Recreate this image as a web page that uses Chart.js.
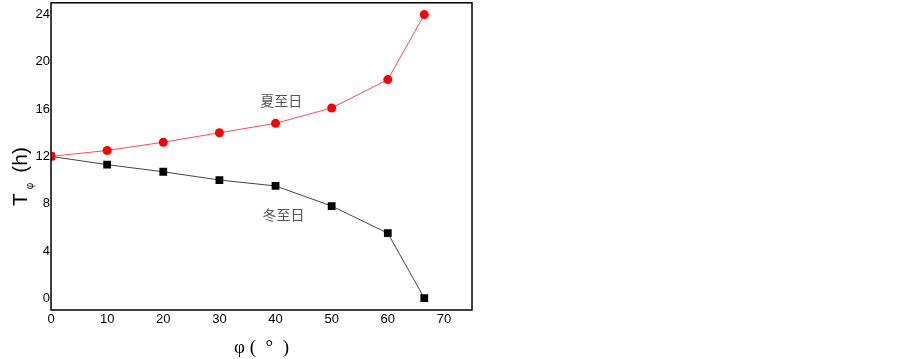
<!DOCTYPE html>
<html>
<head>
<meta charset="utf-8">
<script src="https://cdn.jsdelivr.net/npm/chart.js@4"></script>
<style>
  html, body { margin: 0; padding: 0; background: #fff; overflow: hidden; }
  #chart { display: block; margin-top: -6px; }
</style>
</head>
<body>
<canvas id="chart" width="903" height="365"></canvas>
<script>
// dati
const latitudes = [0, 10, 20, 30, 40, 50, 60, 66.5];
const summerHours = [12, 12.5, 13.2, 14.0, 14.8, 16.1, 18.5, 24];
const winterHours = [12, 11.3, 10.7, 10.0, 9.5, 7.8, 5.5, 0];
const xTicks = [0, 10, 20, 30, 40, 50, 60, 70];
const yTicks = [0, 4, 8, 12, 16, 20, 24];
const curveLabels = ["夏至日", "冬至日"];
const curveLabelPos = [[41.0, 16.7], [41.4, 7.1]];

function toPoints(ys) {
    return latitudes.map((x, i) => ({ x: x, y: ys[i] }));
}

// cornice + etichette + titolo asse y
const extras = {
    id: "extras",
    afterDatasetsDraw(chart) {
        const ctx = chart.ctx;
        const a = chart.chartArea;
        const xs = chart.scales.x, ys = chart.scales.y;
        ctx.save();
        ctx.strokeStyle = "#000";
        ctx.lineWidth = 1.5;
        ctx.strokeRect(a.left, a.top, a.right - a.left, a.bottom - a.top);

        ctx.fillStyle = "#555";
        ctx.font = '14px "Noto Sans CJK SC"';
        ctx.textAlign = "center";
        ctx.textBaseline = "middle";
        curveLabels.forEach((t, i) => {
            ctx.fillText(t, xs.getPixelForValue(curveLabelPos[i][0]), ys.getPixelForValue(curveLabelPos[i][1]));
        });

        // T_φ (h)  (canvas spostato di 6px in alto)
        ctx.translate(21, 212);
        ctx.rotate(-Math.PI / 2);
        ctx.fillStyle = "#000";
        ctx.textAlign = "left";
        ctx.textBaseline = "middle";
        ctx.font = '21px "Liberation Sans"';
        ctx.fillText("T", 0, 0);
        let w = ctx.measureText("T").width;
        ctx.font = '10px "Liberation Sans"';
        ctx.fillText("φ", w + 4, 9);
        w += 4 + ctx.measureText("φ").width + 10;
        ctx.font = '21px "Liberation Sans"';
        ctx.fillText("(h)", w, 0);
        ctx.restore();
    }
};

const ctx = document.getElementById("chart").getContext("2d");

new Chart(ctx, {
    type: "line",
    data: {
        datasets: [{
            label: "夏至日",
            data: toPoints(summerHours),
            borderColor: "#ff4d4d",
            borderWidth: 1,
            pointStyle: "circle",
            pointRadius: 4.5,
            pointBackgroundColor: "#ff0000",
            pointBorderColor: "#ff0000",
            pointBorderWidth: 0,
            clip: 0
        }, {
            label: "冬至日",
            data: toPoints(winterHours),
            borderColor: "#444",
            borderWidth: 1,
            pointStyle: "rect",
            pointRadius: 5.5,
            pointBackgroundColor: "#000",
            pointBorderColor: "#000",
            pointBorderWidth: 0,
            clip: 0
        }]
    },
    options: {
        responsive: false,
        animation: false,
        layout: { padding: { left: 0, top: 0, right: 431, bottom: 0 } },
        plugins: {
            legend: { display: false },
            tooltip: { enabled: false }
        },
        scales: {
            x: {
                type: "linear",
                min: 0,
                max: 75,
                grid: { display: false, drawTicks: false },
                border: { display: false },
                afterBuildTicks: s => { s.ticks = xTicks.map(v => ({ value: v })); },
                afterFit: s => { s.height = 49; },
                ticks: {
                    padding: 2,
                    color: "#000",
                    font: { family: "Liberation Sans", size: 13 }
                },
                title: {
                    display: true,
                    text: "φ (  °  )",
                    color: "#000",
                    padding: { top: 4, bottom: 0 },
                    font: { family: "Liberation Serif", size: 19 }
                }
            },
            y: {
                min: -1,
                max: 25,
                grid: { display: false, drawTicks: false },
                border: { display: false },
                afterBuildTicks: s => { s.ticks = yTicks.map(v => ({ value: v })); },
                afterFit: s => { s.width = 51; },
                ticks: {
                    padding: 1,
                    color: "#000",
                    font: { family: "Liberation Sans", size: 13 }
                }
            }
        }
    },
    plugins: [extras]
});
</script>
</body>
</html>
